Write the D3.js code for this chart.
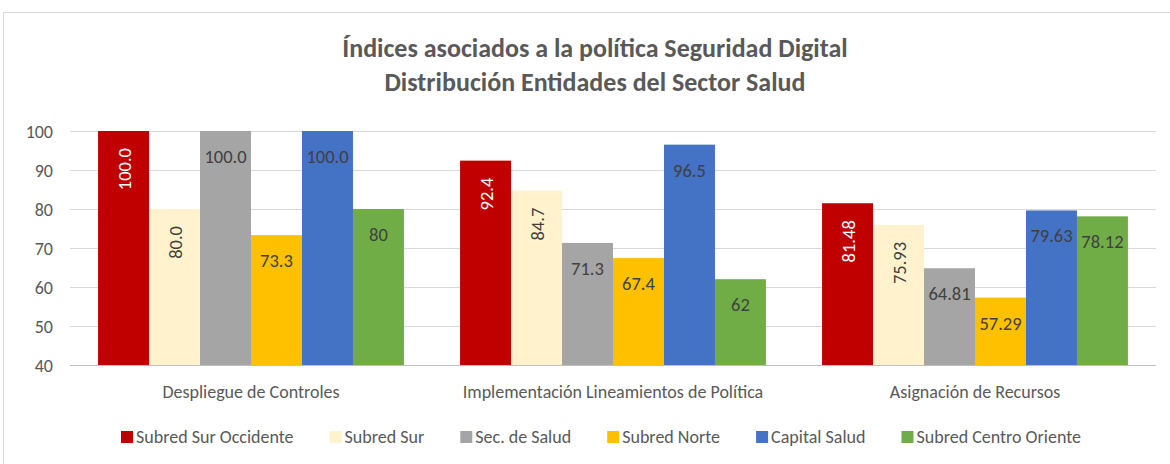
<!DOCTYPE html>
<meta charset="utf-8">
<style>
  body { margin: 0; background: #fff; font-family: Carlito, Lato, sans-serif; }
  .grid line { stroke: #d9d9d9; stroke-width: 1px; }
  .grid path { display: none; }
  .axis text { fill: #595959; font-size: 18px; font-family: Carlito, Lato, sans-serif; }
</style>
<body></body>
<script src="https://d3js.org/d3.v7.min.js"></script>
<script>
  var categories = ["Despliegue de Controles", "Implementación Lineamientos de Política", "Asignación de Recursos"];
  var seriesNames = ["Subred Sur Occidente", "Subred Sur", "Sec. de Salud", "Subred Norte", "Capital Salud", "Subred Centro Oriente"];
  var seriesColors = ["#c00000", "#fff2cc", "#a5a5a5", "#ffc000", "#4472c4", "#70ad47"];
  // values per series, one per category
  var subredSurOccidente = [100.0, 92.4, 81.48];
  var subredSur = [80.0, 84.7, 75.93];
  var secSalud = [100.0, 71.3, 64.81];
  var subredNorte = [73.3, 67.4, 57.29];
  var capitalSalud = [100.0, 96.5, 79.63];
  var subredCentroOriente = [80, 62, 78.12];
  var labelText = [
    ["100.0", "92.4", "81.48"],
    ["80.0", "84.7", "75.93"],
    ["100.0", "71.3", "64.81"],
    ["73.3", "67.4", "57.29"],
    ["100.0", "96.5", "79.63"],
    ["80", "62", "78.12"]
  ];
  var rotated = [true, true, false, false, false, false];
  var yTicks = [40, 50, 60, 70, 80, 90, 100];

  var series = [subredSurOccidente, subredSur, secSalud, subredNorte, capitalSalud, subredCentroOriente];

  var W = 1170, H = 464;
  var svg = d3.select("body").append("svg").attr("width", W).attr("height", H);

  svg.append("rect")
    .attr("x", 3.5).attr("y", 12.5)
    .attr("width", W + 10).attr("height", H)
    .attr("fill", "#fff").attr("stroke", "#d9d9d9");

  var plotLeft = 70, plotRight = 1156, plotTop = 131, plotBottom = 365;

  var x0 = d3.scaleBand().domain(categories).range([plotLeft, plotRight]).paddingInner(0.155).paddingOuter(0.0775);
  var x1 = d3.scaleBand().domain(d3.range(series.length)).range([0, x0.bandwidth()]);
  var y = d3.scaleLinear().domain([40, 100]).range([plotBottom, plotTop]);

  // title
  var title = svg.append("text")
    .attr("text-anchor", "middle")
    .attr("fill", "#595959").attr("font-weight", "bold").attr("font-size", "26px");
  title.append("tspan").attr("x", 595).attr("y", 57).text("Índices asociados a la política Seguridad Digital");
  title.append("tspan").attr("x", 595).attr("y", 91).text("Distribución Entidades del Sector Salud");

  // gridlines
  svg.append("g")
    .attr("class", "grid")
    .attr("transform", "translate(" + plotLeft + ",0)")
    .call(d3.axisRight(y).tickValues(yTicks).tickSize(plotRight - plotLeft).tickFormat(""));

  svg.append("g")
    .attr("class", "axis")
    .attr("transform", "translate(" + (plotLeft - 14) + ",0)")
    .call(d3.axisLeft(y).tickValues(yTicks).tickSize(0).tickFormat(d3.format("d")))
    .call(function(g) { g.select(".domain").remove(); })
    .selectAll("text").attr("dy", "0.35em");

  // bars
  var groups = svg.append("g").selectAll("g")
    .data(categories)
    .enter().append("g")
    .attr("transform", function(d) { return "translate(" + x0(d) + ",0)"; });

  groups.selectAll("rect")
    .data(function(d, ci) { return series.map(function(s, si) { return { si: si, ci: ci, v: s[ci] }; }); })
    .enter().append("rect")
    .attr("x", function(d) { return x1(d.si); })
    .attr("width", x1.bandwidth())
    .attr("y", function(d) { return y(d.v); })
    .attr("height", function(d) { return plotBottom - y(d.v); })
    .attr("fill", function(d) { return seriesColors[d.si]; });

  groups.selectAll("text")
    .data(function(d, ci) { return series.map(function(s, si) { return { si: si, ci: ci, v: s[ci] }; }); })
    .enter().append("text")
    .attr("font-size", "18.5px")
    .attr("fill", function(d) { return d.si === 0 ? "#ffffff" : "#404040"; })
    .attr("text-anchor", function(d) { return rotated[d.si] ? "end" : "middle"; })
    .attr("transform", function(d) {
      var cx = x1(d.si) + x1.bandwidth() / 2;
      if (rotated[d.si]) return "translate(" + (cx + 7) + "," + (y(d.v) + 17) + ") rotate(-90)";
      return "translate(" + cx + "," + (y(d.v) + 32) + ")";
    })
    .text(function(d) { return labelText[d.si][d.ci]; });

  // baseline
  svg.append("line")
    .attr("x1", plotLeft).attr("x2", plotRight)
    .attr("y1", plotBottom + 0.5).attr("y2", plotBottom + 0.5)
    .attr("stroke", "#bfbfbf");

  // category labels
  svg.append("g").selectAll("text")
    .data(categories)
    .enter().append("text")
    .attr("x", function(d) { return x0(d) + x0.bandwidth() / 2; })
    .attr("y", 398)
    .attr("text-anchor", "middle")
    .attr("font-size", "18px")
    .attr("fill", "#595959")
    .text(function(d) { return d; });

  // legend
  var legend = svg.append("g");
  var lx = 0;
  var items = legend.selectAll("g")
    .data(seriesNames)
    .enter().append("g");
  items.append("rect")
    .attr("width", 12).attr("height", 12)
    .attr("y", -12)
    .attr("fill", function(d, i) { return seriesColors[i]; });
  items.append("text")
    .attr("x", 15).attr("font-size", "18px").attr("fill", "#595959")
    .text(function(d) { return d; });
  items.each(function() {
    var g = d3.select(this);
    g.attr("transform", "translate(" + lx + ",0)");
    lx += this.getBBox().width + 36;
  });
  var total = lx - 36;
  legend.attr("transform", "translate(" + (601 - total / 2) + ",443)");
</script>
